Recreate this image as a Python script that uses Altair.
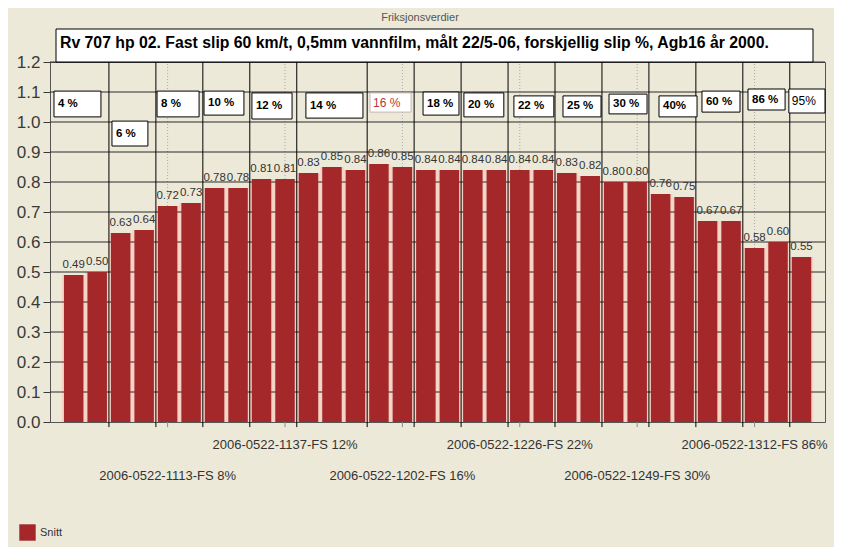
import altair as alt
import pandas as pd

# ---- data ----
values = [0.49, 0.50, 0.63, 0.64, 0.72, 0.73, 0.78, 0.78, 0.81, 0.81,
          0.83, 0.85, 0.84, 0.86, 0.85, 0.84, 0.84, 0.84, 0.84, 0.84,
          0.84, 0.83, 0.82, 0.80, 0.80, 0.76, 0.75, 0.67, 0.67, 0.58,
          0.60, 0.55]
group_labels = ["4 %", "6 %", "8 %", "10 %", "12 %", "14 %", "16 %", "18 %",
                "20 %", "22 %", "25 %", "30 %", "40%", "60 %", "86 %", "95%"]
group_sizes = [2, 2, 2, 2, 2, 3, 2, 2, 2, 2, 2, 2, 2, 2, 2, 1]
# label-box extents (bar-index units / value units)
box_x0 = [-0.84, 1.63, 3.55, 5.55, 7.59, 9.89, 12.62, 14.88, 16.62, 18.75, 20.84, 22.80, 24.93, 26.76, 28.72, 30.46]
box_x1 = [1.16, 3.16, 5.34, 7.25, 9.30, 12.32, 14.37, 16.41, 18.32, 20.45, 22.46, 24.42, 26.55, 28.38, 30.30, 32.0]
box_top = [1.103, 1.003, 1.103, 1.103, 1.097, 1.097, 1.097, 1.100, 1.097, 1.087, 1.087, 1.093, 1.087, 1.103, 1.110, 1.110]
box_bot = [1.017, 0.920, 1.017, 1.023, 1.010, 1.013, 1.033, 1.023, 1.017, 1.017, 1.017, 1.027, 1.017, 1.033, 1.040, 1.030]
box_colors = ["#000000"] * 6 + ["#B03A3A"] + ["#000000"] * 9
box_strokes = ["#000000"] * 6 + ["#C8B8B8"] + ["#000000"] * 9
box_bold = [1] * 6 + [0] + [1] * 8 + [0]

xlabel_idx = [4, 9, 14, 19, 24, 29]
xlabel_text = ["2006-0522-1113-FS 8%", "2006-0522-1137-FS 12%", "2006-0522-1202-FS 16%",
               "2006-0522-1226-FS 22%", "2006-0522-1249-FS 30%", "2006-0522-1312-FS 86%"]
xlabel_row = [1, 0, 1, 0, 1, 0]
y_ticks = [0.1, 0.2, 0.3, 0.4, 0.5, 0.6, 0.7, 0.8, 0.9, 1.0, 1.1, 1.2]
y_axis_ticks = [0.0] + y_ticks

title_text = "Rv 707 hp 02. Fast slip 60 km/t, 0,5mm vannfilm, målt 22/5-06, forskjellig slip %, Agb16 år 2000."
chart_name = "Friksjonsverdier"
series_name = "Snitt"

X_MIN, X_MAX = -1.01, 32.0
Y_MIN, Y_MAX = 0.0, 1.2
TICK_BELOW = -0.017

# ---- tables ----
bars = pd.DataFrame({"idx": list(range(len(values))), "value": values, "series": series_name})
bounds = []
c = 0
for s in group_sizes[:-1]:
    c += s
    bounds.append(c - 0.5)
bounds_df = pd.DataFrame({"b": bounds, "y0": TICK_BELOW, "y1": Y_MAX})
boxes = pd.DataFrame({"label": group_labels, "x0": box_x0, "x1": box_x1, "yt": box_top,
                      "yb": box_bot, "col": box_colors, "stk": box_strokes, "bold": box_bold})
boxes["ym"] = (boxes["yt"] + boxes["yb"]) / 2
xl = pd.DataFrame({"idx": xlabel_idx, "label": xlabel_text, "row": xlabel_row,
                   "y0": Y_MIN, "y1": Y_MAX, "tb": TICK_BELOW})
grid = pd.DataFrame({"y": y_ticks, "x0": X_MIN, "x1": X_MAX})
bars["a_p"] = bars["idx"] - 0.5
bars["b_p"] = bars["idx"] + 0.5
bars["a_r"] = bars["idx"] - 0.415
bars["b_r"] = bars["idx"] + 0.415
bars["zero"] = 0.0

RED = "#A4282A"
PINK = "#F4D2C4"
BG = "#ECE9D8"
FONT = "Liberation Sans, Arial, sans-serif"

xs = alt.Scale(domain=[X_MIN, X_MAX], nice=False, zero=False)
ys = alt.Scale(domain=[Y_MIN, Y_MAX], nice=False)
yaxis = alt.Axis(values=y_axis_ticks, format=".1f", grid=False, title=None, labelFont=FONT,
                 labelFontSize=17, labelColor="#3A3A3A", tickColor="#3A3A3A",
                 domainColor="#555555", tickSize=7, labelPadding=3)


def Y(field):
    return alt.Y(field, scale=ys, axis=yaxis)


def X(field):
    return alt.X(field, scale=xs, axis=None)


base = alt.Chart(bars)

pink = base.mark_bar(color=PINK).encode(
    x=X("a_p:Q"), x2="b_p:Q", y=Y("value:Q"), y2="zero:Q")

dotted = alt.Chart(xl).mark_rule(color="#A8A8A8", strokeDash=[1, 2], strokeWidth=1).encode(
    x=X("idx:Q"), y=Y("y0:Q"), y2="y1:Q")

gray_ticks = alt.Chart(xl).mark_rule(color="#8A8A8A", strokeWidth=1).encode(
    x=X("idx:Q"), y=Y("tb:Q"), y2="y0:Q")

hgrid = alt.Chart(grid).mark_rule(color="#2A2A2A", strokeWidth=1).encode(
    y=Y("y:Q"), x=X("x0:Q"), x2="x1:Q")

red = base.mark_bar().encode(
    x=X("a_r:Q"), x2="b_r:Q", y=Y("value:Q"), y2="zero:Q",
    color=alt.Color("series:N", scale=alt.Scale(domain=[series_name], range=[RED]),
                    legend=alt.Legend(orient="none", legendX=-31, legendY=462, title=None,
                                      symbolType="square", symbolSize=270,
                                      symbolStrokeWidth=0, labelFont=FONT,
                                      labelFontSize=11, labelColor="#333333")))

vlines = alt.Chart(bounds_df).mark_rule(color="#000000", strokeWidth=1).encode(
    x=X("b:Q"), y=Y("y0:Q"), y2="y1:Q")

vlabels = base.mark_text(font=FONT, fontSize=11.5, color="#333333", baseline="bottom", dy=-5).encode(
    x=X("idx:Q"), y=Y("value:Q"), text=alt.Text("value:Q", format=".2f"))

box_rects = alt.Chart(boxes).mark_rect(fill="white", strokeWidth=1).encode(
    x=X("x0:Q"), x2="x1:Q", y=Y("yt:Q"), y2="yb:Q",
    stroke=alt.Stroke("stk:N", scale=None))

box_text_bold = alt.Chart(boxes).transform_filter("datum.bold == 1").mark_text(
    font=FONT, fontSize=11.5, fontWeight="bold", align="left", baseline="middle", dx=4).encode(
    x=X("x0:Q"), y=Y("ym:Q"), text="label:N", color=alt.Color("col:N", scale=None))

box_text_plain = alt.Chart(boxes).transform_filter("datum.bold == 0").mark_text(
    font=FONT, fontSize=12, align="left", baseline="middle", dx=3).encode(
    x=X("x0:Q"), y=Y("ym:Q"), text="label:N", color=alt.Color("col:N", scale=None))

tdf = pd.DataFrame({"t": [title_text], "n": [chart_name]})
title_box = alt.Chart(tdf).mark_rect(
    fill="white", stroke="#000000", strokeWidth=1).encode(
    x=alt.value(6), x2=alt.value(763), y=alt.value(-33), y2=alt.value(0))

title_txt = alt.Chart(tdf).mark_text(
    font=FONT, fontSize=15.8, fontWeight="bold", align="left", baseline="middle", color="#000000").encode(
    x=alt.value(10), y=alt.value(-19), text="t:N")

name_txt = alt.Chart(tdf).mark_text(
    font=FONT, fontSize=11, color="#555555", align="center", baseline="middle").encode(
    x=alt.value(370), y=alt.value(-44), text="n:N")

xlab0 = alt.Chart(xl).transform_filter("datum.row == 0").mark_text(
    font=FONT, fontSize=13, color="#333333", baseline="middle").encode(
    x=X("idx:Q"), y=alt.value(383), text="label:N")
xlab1 = alt.Chart(xl).transform_filter("datum.row == 1").mark_text(
    font=FONT, fontSize=13, color="#333333", baseline="middle").encode(
    x=X("idx:Q"), y=alt.value(414), text="label:N")

chart = alt.layer(
    pink, dotted, gray_ticks, hgrid, red, vlines, vlabels, box_rects, box_text_bold, box_text_plain,
    title_box, title_txt, name_txt, xlab0, xlab1
).properties(
    width=775, height=360, background=BG,
    autosize=alt.AutoSizeParams(type="none"),
    padding={"left": 42, "top": 54, "right": 9, "bottom": 125},
).configure_view(fill=BG, stroke="#555555", strokeWidth=1)

chart.save("out.html", embed_options={"renderer": "svg", "actions": False})
